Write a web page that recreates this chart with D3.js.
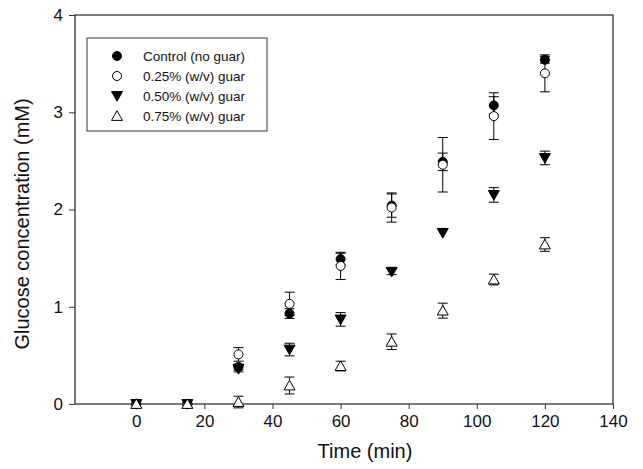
<!DOCTYPE html>
<html lang="en">
<head>
  <meta charset="UTF-8">
  <title>Glucose concentration vs time</title>
  <script src="https://d3js.org/d3.v7.min.js"></script>
  <style>
    body { margin: 0; background: #fff; font-family: "Liberation Sans", Arial, sans-serif; }
    svg text { fill: #111; }
  </style>
</head>
<body>
<div id="chart"></div>
<script>
const times = [0, 15, 30, 45, 60, 75, 90, 105, 120];

const control    = [0, 0, 0.38, 0.93, 1.49, 2.04, 2.49, 3.07, 3.54];
const controlErr = [0.01, 0.01, 0.03, 0.05, 0.06, 0.12, 0.09, 0.09, 0.035];
const guar25     = [0, 0, 0.51, 1.03, 1.42, 2.02, 2.46, 2.96, 3.40];
const guar25Err  = [0.01, 0.01, 0.07, 0.12, 0.14, 0.15, 0.28, 0.24, 0.19];
const guar50     = [0, 0, 0.36, 0.56, 0.87, 1.36, 1.76, 2.15, 2.53];
const guar50Err  = [0.01, 0.01, 0.03, 0.065, 0.07, 0.03, 0.02, 0.075, 0.07];
const guar75     = [0, 0, 0.02, 0.19, 0.39, 0.64, 0.96, 1.28, 1.64];
const guar75Err  = [0.01, 0.01, 0.06, 0.087, 0.05, 0.08, 0.077, 0.055, 0.07];

const seriesNames = ["Control (no guar)", "0.25% (w/v) guar", "0.50% (w/v) guar", "0.75% (w/v) guar"];
const xTicks = [0, 20, 40, 60, 80, 100, 120, 140];
const yTicks = [0, 1, 2, 3, 4];

const width = 643, height = 469;
const plotLeft = 75, plotRight = 613, plotTop = 15, plotBottom = 404;

const x = d3.scaleLinear().domain([-18, 140]).range([plotLeft, plotRight]);
const y = d3.scaleLinear().domain([0, 4]).range([plotBottom, plotTop]);

const svg = d3.select("#chart").append("svg")
  .attr("width", width)
  .attr("height", height);

// frame
svg.append("rect")
  .attr("x", plotLeft).attr("y", plotTop)
  .attr("width", plotRight - plotLeft).attr("height", plotBottom - plotTop)
  .attr("fill", "none").attr("stroke", "#333").attr("stroke-width", 1.3);

const xAxis = svg.append("g")
  .attr("transform", `translate(0,${plotBottom})`)
  .call(d3.axisBottom(x).tickValues(xTicks).tickSize(5).tickPadding(6));
xAxis.select(".domain").remove();
xAxis.selectAll("line").attr("stroke", "#333");
xAxis.selectAll("text").style("font-size", "17px").attr("font-family", "Liberation Sans, Arial, sans-serif");

const yAxis = svg.append("g")
  .attr("transform", `translate(${plotLeft},0)`)
  .call(d3.axisLeft(y).tickValues(yTicks).tickFormat(d3.format("d")).tickSize(6).tickPadding(6));
yAxis.select(".domain").remove();
yAxis.selectAll("line").attr("stroke", "#333");
yAxis.selectAll("text").style("font-size", "17px").attr("font-family", "Liberation Sans, Arial, sans-serif");

svg.append("text")
  .attr("x", 365)
  .attr("y", 458)
  .attr("text-anchor", "middle")
  .style("font-size", "20px")
  .text("Time (min)");

svg.append("text")
  .attr("transform", "translate(29,224) rotate(-90)")
  .attr("text-anchor", "middle")
  .style("font-size", "20px")
  .text("Glucose concentration (mM)");

// marker shapes
function drawMarker(g, kind, cx, cy) {
  if (kind === "filled-circle" || kind === "open-circle") {
    g.append("circle")
      .attr("cx", cx).attr("cy", cy).attr("r", 4.5)
      .attr("fill", kind === "filled-circle" ? "#000" : "#fff")
      .attr("stroke", "#000").attr("stroke-width", 1);
  } else {
    const s = 5.5;
    const pts = kind === "down-tri"
      ? [[cx - s, cy - s * 0.8], [cx + s, cy - s * 0.8], [cx, cy + s * 0.95]]
      : [[cx - s, cy + s * 0.8], [cx + s, cy + s * 0.8], [cx, cy - s * 0.95]];
    g.append("path")
      .attr("d", d3.line()(pts) + "Z")
      .attr("fill", kind === "down-tri" ? "#000" : "#fff")
      .attr("stroke", "#000").attr("stroke-width", 1);
  }
}

const series = [
  { name: seriesNames[0], values: control, err: controlErr, kind: "filled-circle" },
  { name: seriesNames[1], values: guar25, err: guar25Err, kind: "open-circle" },
  { name: seriesNames[2], values: guar50, err: guar50Err, kind: "down-tri" },
  { name: seriesNames[3], values: guar75, err: guar75Err, kind: "up-tri" }
];

const plot = svg.append("g");
series.forEach(s => {
  const g = plot.append("g");
  times.forEach((t, i) => {
    const cx = x(t), v = s.values[i], e = s.err[i];
    if (e > 0.02) {
      const y1 = y(v + e), y2 = y(v - e);
      g.append("line").attr("x1", cx).attr("x2", cx).attr("y1", y1).attr("y2", y2)
        .attr("stroke", "#000").attr("stroke-width", 1);
      [y1, y2].forEach(yy => g.append("line")
        .attr("x1", cx - 5).attr("x2", cx + 5).attr("y1", yy).attr("y2", yy)
        .attr("stroke", "#000").attr("stroke-width", 1));
    }
    drawMarker(g, s.kind, cx, y(v));
  });
});

// legend
const legend = svg.append("g").attr("transform", "translate(87,38)");
legend.append("rect")
  .attr("width", 180).attr("height", 93)
  .attr("fill", "#fff").attr("stroke", "#333").attr("stroke-width", 1);
series.forEach((s, i) => {
  const ly = 18 + i * 20;
  drawMarker(legend, s.kind, 30, ly);
  legend.append("text")
    .attr("x", 56).attr("y", ly + 5)
    .style("font-size", "13.5px")
    .text(s.name);
});
</script>
</body>
</html>
